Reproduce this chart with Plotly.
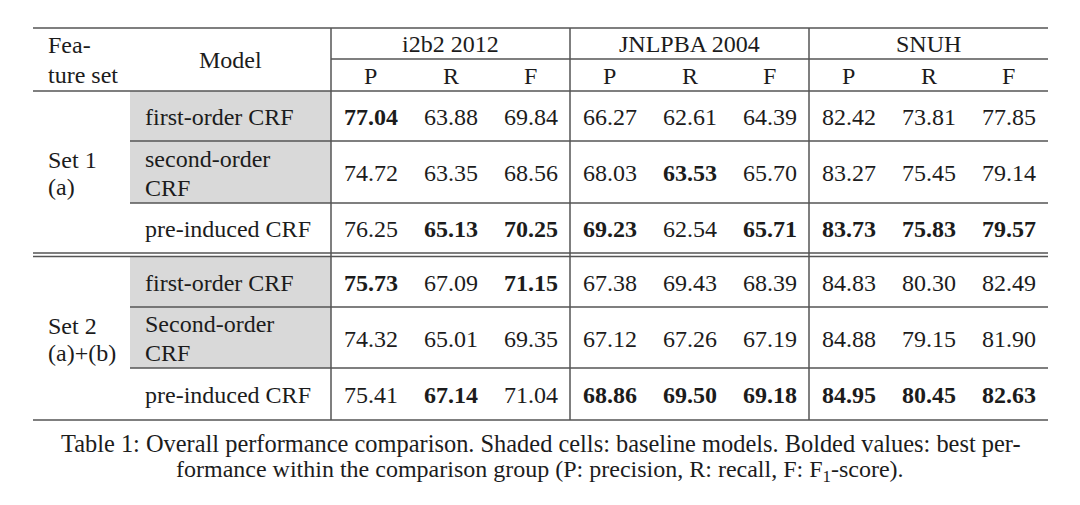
import plotly.graph_objects as go

# ---------------- data ----------------
datasets = ["i2b2 2012", "JNLPBA 2004", "SNUH"]
metrics = ["P", "R", "F"]
feature_sets = ["Set 1<br>(a)", "Set 2<br>(a)+(b)"]
models_set1 = ["first-order CRF", "second-order<br>CRF", "pre-induced CRF"]
models_set2 = ["first-order CRF", "Second-order<br>CRF", "pre-induced CRF"]
baseline = [True, True, False]

# values per row: i2b2 P,R,F | JNLPBA P,R,F | SNUH P,R,F
set1_first = [77.04, 63.88, 69.84, 66.27, 62.61, 64.39, 82.42, 73.81, 77.85]
set1_second = [74.72, 63.35, 68.56, 68.03, 63.53, 65.70, 83.27, 75.45, 79.14]
set1_pre = [76.25, 65.13, 70.25, 69.23, 62.54, 65.71, 83.73, 75.83, 79.57]
set2_first = [75.73, 67.09, 71.15, 67.38, 69.43, 68.39, 84.83, 80.30, 82.49]
set2_second = [74.32, 65.01, 69.35, 67.12, 67.26, 67.19, 84.88, 79.15, 81.90]
set2_pre = [75.41, 67.14, 71.04, 68.86, 69.50, 69.18, 84.95, 80.45, 82.63]

caption_lines = [
    "Table 1: Overall performance comparison. Shaded cells: baseline models. Bolded values: best per-",
    "formance within the comparison group (P: precision, R: recall, F: F<sub>1</sub>-score).",
]

# ---------------- layout geometry (pixels) ----------------
W, H = 1080, 505
PAGE_OFF = 8  # page body margin compensation
X_LEFT, X_RIGHT = 33, 1048
X_MODEL = 130
X_DATA = 331
DS_W = (X_RIGHT - X_DATA) / 3
COL_STEP = 80
Y_TOP, Y_MID, Y_HEAD = 28, 59, 91
ROW_EDGES = [[91, 141, 203, 253], [256, 307, 368, 420]]

FONT = "Liberation Serif, Times New Roman, serif"
TXT = "#1c1c1c"
LINE = "#555555"
SHADE = "#d9d9d9"
FS = 24

fig = go.Figure()
fig.add_trace(go.Scatter(x=[0, W], y=[0, H], mode="markers",
                         marker=dict(opacity=0), hoverinfo="skip", showlegend=False))

shapes = []
annotations = []


def hline(y, x0, x1, w=1.5):
    shapes.append(dict(type="line", xref="x", yref="y", x0=x0, x1=x1, y0=y, y1=y,
                       line=dict(color=LINE, width=w)))


def vline(x, y0, y1, w=1.5):
    shapes.append(dict(type="line", xref="x", yref="y", x0=x, x1=x, y0=y0, y1=y1,
                       line=dict(color=LINE, width=w)))


def text(x, y, s, anchor="center", size=FS, color=TXT):
    annotations.append(dict(x=x, y=y, xref="x", yref="y", text=s, showarrow=False,
                            xanchor=anchor, yanchor="middle",
                            font=dict(family=FONT, size=size, color=color)))


def multiline(x, y, s, anchor="left", gap=28):
    parts = s.split("<br>")
    n = len(parts)
    for i, p in enumerate(parts):
        text(x, y + (i - (n - 1) / 2) * gap, p, anchor=anchor)


# header
text(46, 45, "Fea-", anchor="left")
text(46, 75, "ture set", anchor="left")
text((X_MODEL + X_DATA) / 2, 60, "Model")
for d, name in enumerate(datasets):
    cx = X_DATA + DS_W * (d + 0.5)
    text(cx, 44, name)
    for m, met in enumerate(metrics):
        text(cx + (m - 1) * COL_STEP, 76, met)

# body
sets = [
    (feature_sets[0], models_set1, [set1_first, set1_second, set1_pre]),
    (feature_sets[1], models_set2, [set2_first, set2_second, set2_pre]),
]
for s, (label, models, rows) in enumerate(sets):
    edges = ROW_EDGES[s]
    for r in range(3):
        if baseline[r]:
            shapes.append(dict(type="rect", xref="x", yref="y", x0=X_MODEL, x1=X_DATA,
                               y0=edges[r], y1=edges[r + 1], fillcolor=SHADE,
                               line=dict(width=0), layer="below"))
    multiline(46, (edges[0] + edges[3]) / 2 + 1, label, gap=27)
    best = [max(rows[r][c] for r in range(3)) for c in range(9)]
    for r in range(3):
        yc = (edges[r] + edges[r + 1]) / 2 + 1
        multiline(143, yc, models[r], gap=29)
        for c in range(9):
            d, m = divmod(c, 3)
            cx = X_DATA + DS_W * (d + 0.5) + (m - 1) * COL_STEP
            v = rows[r][c]
            s_txt = f"{v:.2f}"
            if v == best[c]:
                s_txt = f"<b>{s_txt}</b>"
            text(cx, yc, s_txt)
    for r in (1, 2):
        hline(edges[r], X_MODEL, X_RIGHT, w=1.3)

# horizontal rules
hline(Y_TOP, X_LEFT, X_RIGHT)
hline(Y_MID, X_DATA, X_RIGHT, w=1.3)
hline(Y_HEAD, X_LEFT, X_RIGHT)
hline(253, X_LEFT, X_RIGHT, w=1.3)
hline(256.5, X_LEFT, X_RIGHT, w=1.3)
hline(420, X_LEFT, X_RIGHT)

# vertical rules
for d in range(3):
    vline(X_DATA + DS_W * d, Y_TOP, 420)

# caption
text(541, 443, caption_lines[0], size=24.4)
text(540, 471, caption_lines[1], size=24)

fig.update_layout(
    width=W, height=H,
    margin=dict(l=0, r=0, t=0, b=0),
    paper_bgcolor="white", plot_bgcolor="white",
    xaxis=dict(range=[PAGE_OFF, W + PAGE_OFF], visible=False, fixedrange=True),
    yaxis=dict(range=[H + PAGE_OFF, PAGE_OFF], visible=False, fixedrange=True),
    shapes=shapes, annotations=annotations,
    showlegend=False,
)

fig.write_html("out.html")
